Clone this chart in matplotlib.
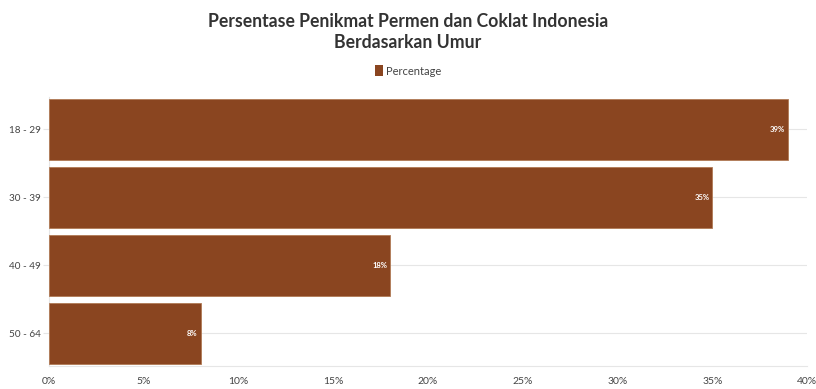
import matplotlib.pyplot as plt
from matplotlib.patches import Patch
from matplotlib.ticker import FuncFormatter

# age groups and share of candy/chocolate consumers (%)
age_groups = ['18 - 29', '30 - 39', '40 - 49', '50 - 64']
percentage = [39, 35, 18, 8]

bar_color = '#8A4520'
plt.rcParams['font.family'] = ['Lato', 'DejaVu Sans']

fig = plt.figure(figsize=(8.16, 3.89), dpi=100)
ax = fig.add_axes([0.060, 0.059, 0.929, 0.692])

pos = list(range(len(age_groups)))
ax.barh(pos, percentage, height=0.9, color=bar_color,
        edgecolor='#b07a55', linewidth=0.6, zorder=3)

for y, v in zip(pos, percentage):
    ax.text(v - 0.15, y, f'{v}%', ha='right', va='center', color='white',
            fontsize=5.5, fontweight='bold', zorder=4)

ax.set_xlim(0, 40)
ax.set_ylim(len(age_groups) - 0.52, -0.48)
ax.set_yticks(pos)
ax.set_yticklabels(age_groups)
ax.set_xticks(range(0, 41, 5))
ax.xaxis.set_major_formatter(FuncFormatter(lambda x, _: f'{x:.0f}%'))

ax.grid(axis='y', color='#e6e6e6', linewidth=0.8, zorder=0)
for side in ['top', 'right']:
    ax.spines[side].set_visible(False)
for side in ['left', 'bottom']:
    ax.spines[side].set_color('#e6e6e6')
ax.tick_params(axis='y', length=4, color='#e6e6e6', labelsize=7.2,
               labelcolor='#444444', pad=2)
ax.tick_params(axis='x', length=0, labelsize=7.5, labelcolor='#444444', pad=8)

fig.text(0.5, 0.945, 'Persentase Penikmat Permen dan Coklat Indonesia',
         ha='center', va='center', fontsize=12.7, fontweight='bold', color='#333333')
fig.text(0.5, 0.89, 'Berdasarkan Umur',
         ha='center', va='center', fontsize=12.7, fontweight='bold', color='#333333')

fig.legend(handles=[Patch(facecolor=bar_color, label='Percentage')],
           loc='center', bbox_to_anchor=(0.5, 0.818), frameon=False,
           fontsize=8, handlelength=0.7, handleheight=1.2, handletextpad=0.3,
           labelcolor='#444444')

fig.savefig('out.png', dpi=100)
